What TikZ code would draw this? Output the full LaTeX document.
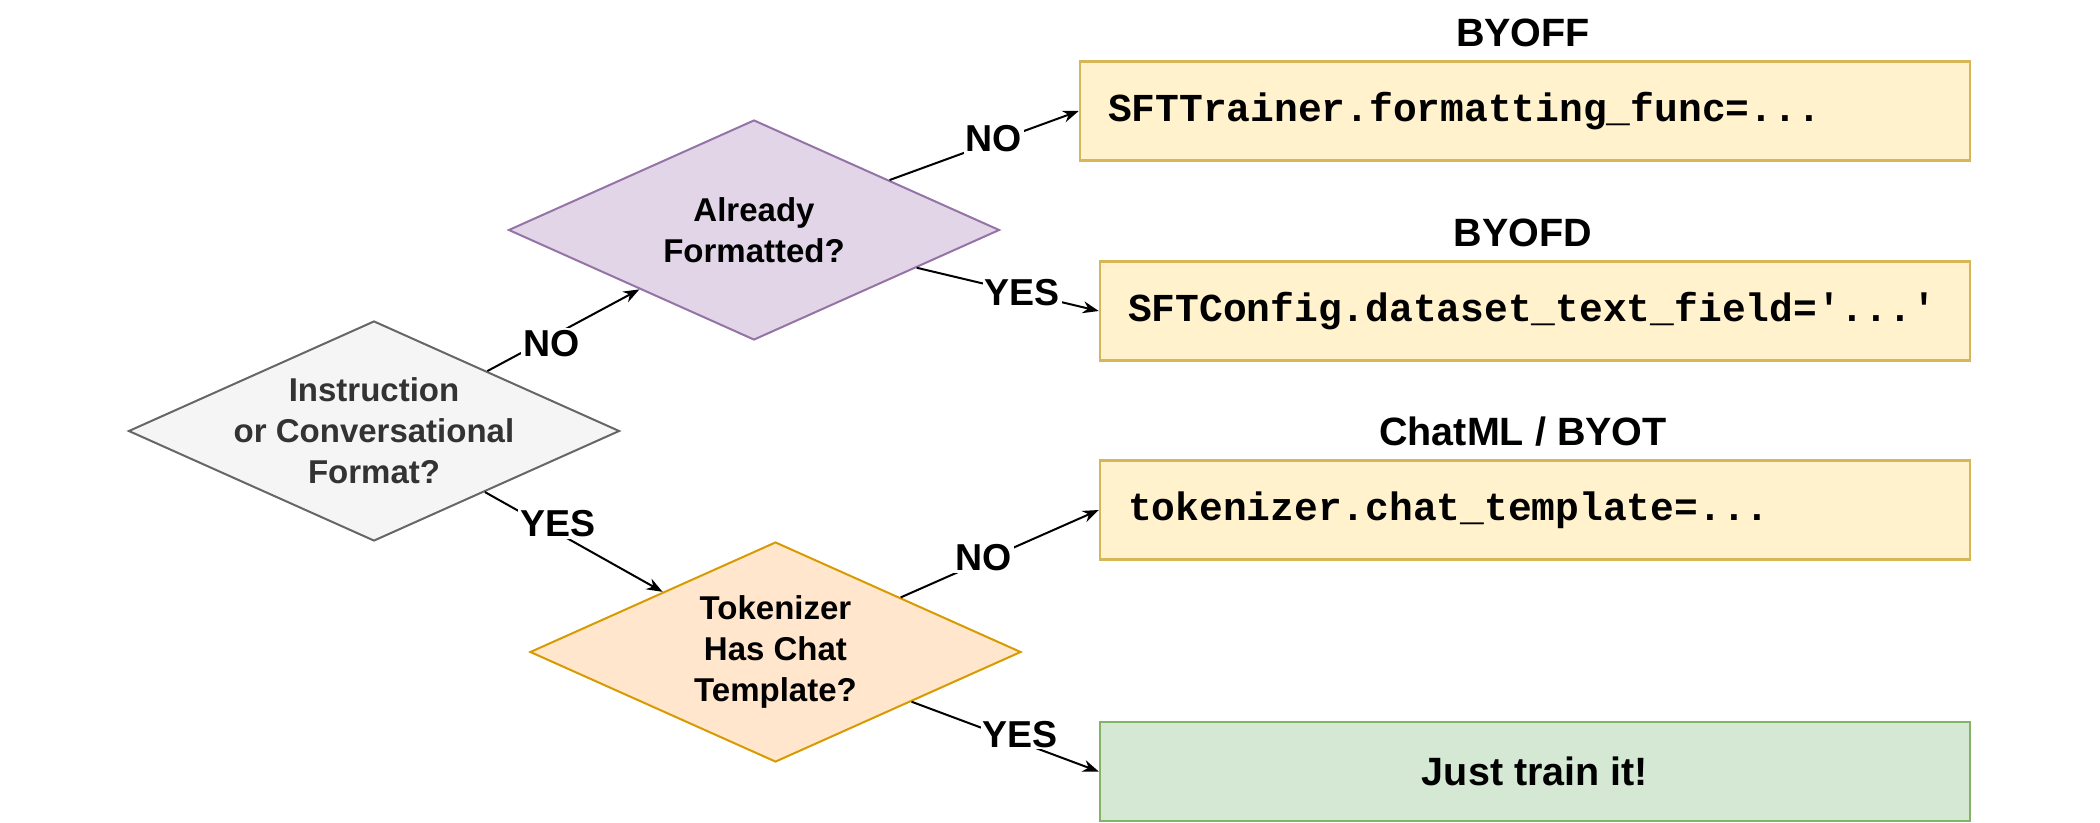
\documentclass[tikz,border=0pt]{standalone}
\usepackage{fontspec}
\setmainfont{Liberation Sans}
\setmonofont{Liberation Mono}
\usetikzlibrary{shapes,arrows.meta,calc}

\definecolor{grayfill}{HTML}{F5F5F5}
\definecolor{grayline}{HTML}{666666}
\definecolor{graytext}{HTML}{333333}
\definecolor{purplefill}{HTML}{E1D5E7}
\definecolor{purpleline}{HTML}{9673A6}
\definecolor{orangefill}{HTML}{FFE6CC}
\definecolor{orangeline}{HTML}{D79B00}
\definecolor{yellowfill}{HTML}{FFF2CC}
\definecolor{yellowline}{HTML}{D6B656}
\definecolor{greenfill}{HTML}{D5E8D4}
\definecolor{greenline}{HTML}{82B366}

\begin{document}
\begin{tikzpicture}[x=1pt, y=-1pt,
  decision/.style={shape=diamond, minimum width=491pt, minimum height=220pt, inner sep=0pt, line width=2pt},
  dtext/.style={font=\fontsize{33}{41}\selectfont\bfseries, align=center},
  codebox/.style={draw=yellowline, fill=yellowfill, line width=2.5pt, minimum height=99pt, inner xsep=28pt, align=left, font=\fontsize{39.6}{45}\selectfont\ttfamily\bfseries},
  title/.style={font=\fontsize{39.5}{45}\selectfont\bfseries, inner sep=0pt, text height=28pt, text depth=0pt},
  choice/.style={fill=white, inner sep=2pt, font=\fontsize{37.5}{40}\selectfont\bfseries},
  flow/.style={line width=2pt, -{Stealth[length=16pt, width=12pt]}}]
\useasboundingbox (0,0) rectangle (2100,822);

% questions
\node[decision, draw=grayline, fill=grayfill, label={[dtext, text=graytext]center:{Instruction\\or Conversational\\Format?}}] (fmt) at (374,431) {};
\node[decision, draw=purpleline, fill=purplefill, label={[dtext]center:{Already\\Formatted?}}] (done) at (754,230) {};
\node[decision, draw=orangeline, fill=orangefill, label={[dtext]center:{Tokenizer\\Has Chat\\Template?}}] (tmpl) at (775.5,652) {};

% answers
\node[codebox, text width=834pt] (func) at (1525,111) {SFTTrainer.formatting\_func=...};
\node[codebox, text width=814pt] (field) at (1535,311) {SFTConfig.dataset\_text\_field='...'};
\node[codebox, text width=814pt] (chat) at (1535,510) {tokenizer.chat\_template=...};
\node[draw=greenline, fill=greenfill, line width=2.5pt, minimum width=870pt, minimum height=99pt, font=\fontsize{39.5}{45}\selectfont\bfseries] (train) at (1535,771.5) {Just train it!};

\node[title] (byoff) at (1523,32) {BYOFF};
\node[title] (byofd) at (1523,232) {BYOFD};
\node[title] (byot) at (1523,431) {ChatML / BYOT};

% edges
\draw[flow] ($(fmt.north)!0.46!(fmt.east)$) -- node[choice, pos=0.42, yshift=-7pt] {NO} ($(done.west)!0.535!(done.south)$);
\draw[flow] ($(fmt.east)!0.55!(fmt.south)$) -- node[choice, pos=0.41, yshift=9pt] {YES} ($(tmpl.west)!0.542!(tmpl.north)$);
\draw[flow] ($(done.north)!0.55!(done.east)$) -- node[choice, pos=0.55, yshift=3pt] {NO} (func.west);
\draw[flow] ($(done.east)!0.34!(done.south)$) -- node[choice, pos=0.58] {YES} (field.west);
\draw[flow] ($(tmpl.north)!0.508!(tmpl.east)$) -- node[choice, pos=0.42, yshift=3pt] {NO} (chat.west);
\draw[flow] ($(tmpl.east)!0.448!(tmpl.south)$) -- node[choice, pos=0.58, yshift=8pt] {YES} (train.west);
\end{tikzpicture}
\end{document}
